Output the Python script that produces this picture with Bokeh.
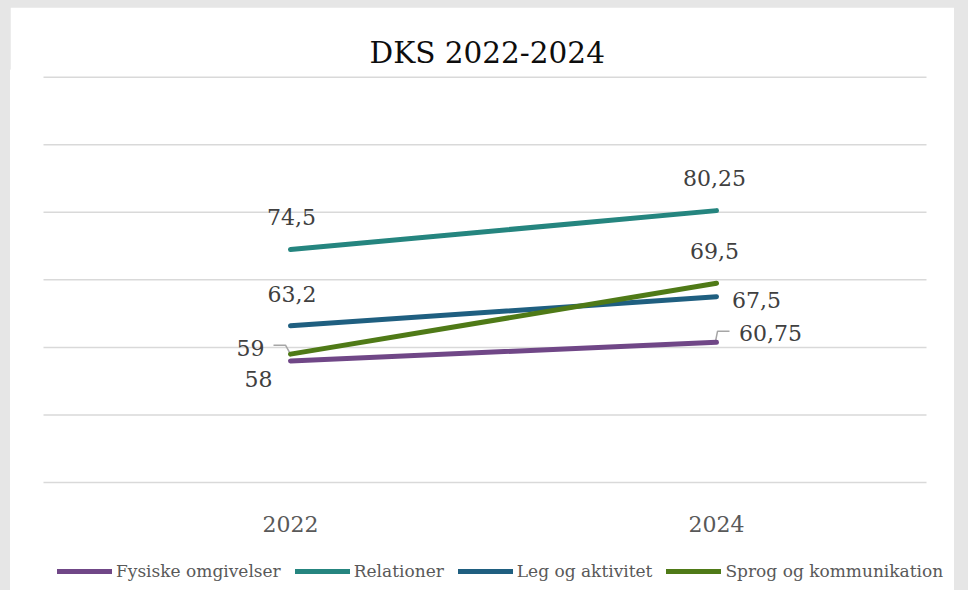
from bokeh.plotting import figure
from bokeh.models import (Range1d, Legend, LegendItem, ColumnDataSource,
                          GlobalInlineStyleSheet)
from bokeh.core.properties import value
from bokeh.embed import file_html
from bokeh.resources import INLINE

# ---------------- data ----------------
years = [2022, 2024]
tick_labels = ["2022", "2024"]
series_names = ["Fysiske omgivelser", "Relationer", "Leg og aktivitet", "Sprog og kommunikation"]
fysiske = [58, 60.75]
relationer = [74.5, 80.25]
leg = [63.2, 67.5]
sprog = [59, 69.5]
series_values = [fysiske, relationer, leg, sprog]
colors = ["#704787", "#25857f", "#1f5f80", "#4f7a17"]
grid_values = [40, 50, 60, 70, 80, 90, 100]

# label offsets (screen px, alphabetic baseline, centred) per series per year
label_dx = [[-32, 54], [1, -2], [1.5, 40], [-40, -2]]
label_dy = [[18, -9], [-32.5, -32.5], [-32, 3.5], [-6, -32.5]]

FONT = "DejaVu Serif"
X_PX = 213.0    # px per year unit
Y_PX = 6.753    # px per value unit
# layout: page x of figure left/right, of grid start/end, of the two category centres
FIG_L, FIG_R, GRID_L, GRID_R, C0, C1 = 10, 954, 43, 926, 290, 716
TITLE_L = 369

p = figure(width=FIG_R - FIG_L, height=583,
           x_range=Range1d(years[0] - (C0 - FIG_L) / X_PX, years[1] + (FIG_R - C1) / X_PX),
           y_range=Range1d(24, 101),
           output_backend="svg", toolbar_location=None,
           min_border_left=0, min_border_right=0,
           min_border_top=63, min_border_bottom=0,
           title="DKS 2022-2024")

p.stylesheets = [GlobalInlineStyleSheet(
    css="html, body { background: #e6e6e6 !important; overflow: hidden !important; } "
        "body { padding: 7px 0 0 10px !important; }")]

p.background_fill_color = "white"
p.border_fill_color = "white"
p.outline_line_color = "white"
p.outline_line_width = 2

p.title.text_font = FONT
p.title.text_font_size = "29.5px"
p.title.text_font_style = "normal"
p.title.text_color = "#0d0d0d"
p.title.align = "left"
p.title.offset = TITLE_L - FIG_L
p.title.standoff = 1

p.xaxis.visible = False
p.yaxis.visible = False
p.xgrid.visible = False
p.ygrid.visible = False

# horizontal value grid lines, spanning the plot area only
gx0 = years[0] - (C0 - GRID_L) / X_PX
gx1 = years[1] + (GRID_R - C1) / X_PX
p.segment(x0=[gx0] * len(grid_values), x1=[gx1] * len(grid_values),
          y0=grid_values, y1=grid_values, line_color="#d9d9d9", line_width=1.5)

# category labels under the lowest grid line
p.text(x=years, y=[grid_values[0]] * len(years), text=tick_labels,
       y_offset=42, text_font=value(FONT), text_font_size="22px", text_color="#595959",
       text_align="center", text_baseline="alphabetic")

# leader lines (from data point, offsets in px)
leaders = [
    (2022, sprog[0], [(-17, -9), (-5, -9), (0, 0)]),
    (2024, fysiske[1], [(-1, -1), (1, -11), (13, -11)]),
]
for (lx, ly, offs) in leaders:
    p.line([lx + dx / X_PX for dx, dy in offs], [ly - dy / Y_PX for dx, dy in offs],
           line_color="#a6a6a6", line_width=1.5)

items = []
for name, vals, col in zip(series_names, series_values, colors):
    r = p.line(years, vals, line_color=col, line_width=5, line_cap="round", line_join="round")
    items.append(LegendItem(label=name, renderers=[r]))

for vals, dxs, dys in zip(series_values, label_dx, label_dy):
    src = ColumnDataSource(dict(x=years, y=vals,
                                t=[("%g" % v).replace(".", ",") for v in vals],
                                dx=dxs, dy=dys))
    p.text(x="x", y="y", text="t", x_offset="dx", y_offset="dy", source=src,
           text_font=value(FONT), text_font_size="22px", text_color="#404040",
           text_align="center", text_baseline="alphabetic")

legend = Legend(items=items, orientation="horizontal", location=(57 - FIG_L, 9))
legend.label_text_font = FONT
legend.label_text_font_size = "17px"
legend.label_text_color = "#595959"
legend.glyph_width = 55
legend.glyph_height = 20
legend.label_standoff = 4
legend.spacing = 14
legend.padding = 0
legend.margin = 0
legend.border_line_color = None
legend.background_fill_alpha = 0
p.add_layout(legend, "center")

open("out.html", "w").write(file_html(p, INLINE))
